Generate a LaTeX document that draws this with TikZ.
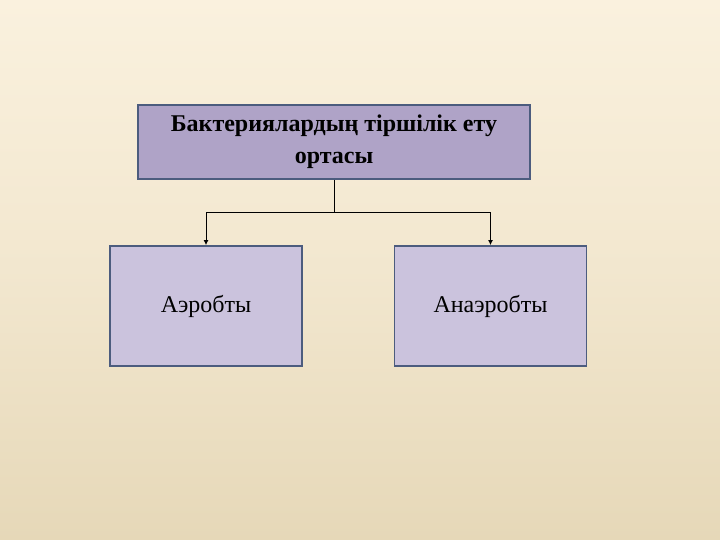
\documentclass[tikz,border=0pt]{standalone}
\usepackage{fontspec}
\setmainfont{Liberation Serif}
\usepackage{xcolor}
\usetikzlibrary{arrows.meta,positioning,calc}
\definecolor{bgtop}{HTML}{FAF1DE}
\definecolor{bgbot}{HTML}{E6D8B8}
\definecolor{topfill}{HTML}{AFA3C7}
\definecolor{subfill}{HTML}{CBC3DD}
\definecolor{edge}{HTML}{4C5C7E}

\begin{document}
\begin{tikzpicture}[x=1pt,y=-1pt,>={Latex[length=5pt,width=5pt]},
 head/.style={draw=edge,line width=1.8pt,fill=topfill,align=center,font=\bfseries\fontsize{24}{32}\selectfont,minimum width=392pt,minimum height=74pt,inner sep=0pt},
 sub/.style={draw=edge,line width=1.8pt,fill=subfill,align=center,font=\fontsize{24}{30}\selectfont,minimum width=192pt,minimum height=120pt,inner sep=0pt}]
\shade[top color=bgtop,bottom color=bgbot,middle color=bgtop!60!bgbot] (0,0) rectangle (720,540);
\useasboundingbox (0,0) rectangle (720,540);
\node[head] (env) at (334,142) {Бактериялардың тіршілік ету\\ортасы};
\node[sub] (aer) at (206,306) {Аэробты};
\node[sub] (anaer) at (490.5,306) {Анаэробты};
\coordinate (split) at (334,213);
\draw[line width=1pt] (env.south) -- (split);
\draw[line width=1pt,->] (split) -| (aer.north);
\draw[line width=1pt,->] (split) -| (anaer.north);
\end{tikzpicture}
\end{document}
